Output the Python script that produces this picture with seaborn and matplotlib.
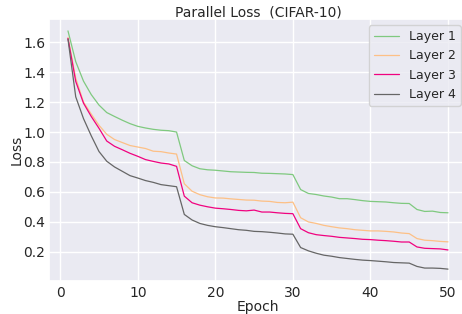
import matplotlib
matplotlib.use("Agg")
import matplotlib.pyplot as plt
import seaborn as sns
import pandas as pd
import numpy as np

epochs = list(range(1, 51))
layer1 = [1.675, 1.47, 1.34, 1.25, 1.18, 1.13, 1.104, 1.079, 1.056, 1.038,
          1.027, 1.018, 1.012, 1.009, 1.0, 0.81, 0.775, 0.755, 0.748, 0.745,
          0.740, 0.735, 0.733, 0.731, 0.730, 0.725, 0.724, 0.722, 0.720, 0.716,
          0.616, 0.59, 0.583, 0.573, 0.566, 0.555, 0.555, 0.549, 0.542, 0.537,
          0.535, 0.533, 0.528, 0.524, 0.523, 0.483, 0.47, 0.472, 0.463, 0.461]
layer2 = [1.63, 1.36, 1.20, 1.12, 1.045, 0.985, 0.95, 0.93, 0.91, 0.900,
          0.89, 0.872, 0.869, 0.86, 0.853, 0.655, 0.605, 0.582, 0.568, 0.56,
          0.559, 0.554, 0.55, 0.546, 0.545, 0.539, 0.537, 0.53, 0.528, 0.532,
          0.428, 0.4, 0.39, 0.377, 0.368, 0.36, 0.355, 0.348, 0.344, 0.34,
          0.34, 0.337, 0.333, 0.326, 0.322, 0.289, 0.278, 0.275, 0.27, 0.267]
layer3 = [1.625, 1.338, 1.193, 1.104, 1.025, 0.94, 0.905, 0.882, 0.858, 0.838,
          0.816, 0.804, 0.793, 0.787, 0.771, 0.572, 0.528, 0.512, 0.501, 0.492,
          0.488, 0.483, 0.477, 0.474, 0.479, 0.466, 0.466, 0.461, 0.457, 0.455,
          0.355, 0.328, 0.315, 0.309, 0.304, 0.297, 0.293, 0.289, 0.284, 0.282,
          0.278, 0.275, 0.271, 0.266, 0.266, 0.233, 0.224, 0.222, 0.22, 0.213]
layer4 = [1.62, 1.235, 1.09, 0.975, 0.87, 0.805, 0.767, 0.738, 0.709, 0.693,
          0.676, 0.664, 0.649, 0.642, 0.635, 0.45, 0.413, 0.39, 0.377, 0.368,
          0.362, 0.355, 0.348, 0.344, 0.337, 0.335, 0.331, 0.326, 0.32, 0.318,
          0.229, 0.207, 0.191, 0.178, 0.171, 0.162, 0.156, 0.15, 0.145, 0.142,
          0.138, 0.134, 0.129, 0.127, 0.125, 0.103, 0.092, 0.092, 0.09, 0.085]
series_names = ["Layer 1", "Layer 2", "Layer 3", "Layer 4"]
colors = ["#7fc97f", "#fdc086", "#f0027f", "#666666"]

frames = []
for name, vals in zip(series_names, [layer1, layer2, layer3, layer4]):
    frames.append(pd.DataFrame({"Epoch": epochs, "Loss": vals, "Layer": name}))
df = pd.concat(frames, ignore_index=True)

sns.set_theme(style="darkgrid")
plt.rcParams["font.family"] = ["DejaVu Sans"]

fig, ax = plt.subplots(figsize=(4.62, 3.14), dpi=100)
fig.subplots_adjust(left=0.106, right=1.0108, top=0.9395, bottom=0.105)

sns.lineplot(data=df, x="Epoch", y="Loss", hue="Layer", palette=colors,
             linewidth=0.9, ax=ax)

ax.set_title("Parallel Loss  (CIFAR-10)", fontsize=10, pad=2)
ax.set_xlabel("Epoch", fontsize=10, labelpad=0)
ax.set_ylabel("Loss", fontsize=10, labelpad=0)
ax.tick_params(axis="x", labelsize=10, length=0, pad=3.4)
ax.tick_params(axis="y", labelsize=10, length=0, pad=2.5)
ax.set_xticks([0, 10, 20, 30, 40, 50])
ax.set_yticks([0.2, 0.4, 0.6, 0.8, 1.0, 1.2, 1.4, 1.6])
leg = ax.legend(loc="upper right", fontsize=9, title=None)

fig.savefig("out.png", dpi=100)
